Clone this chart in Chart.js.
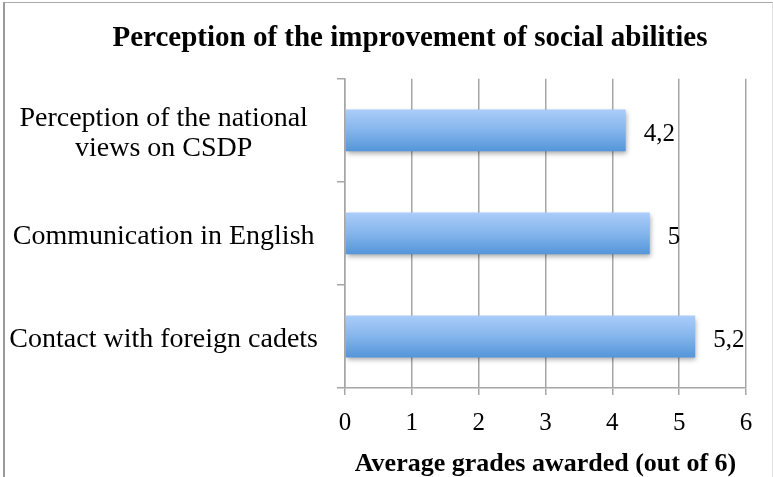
<!DOCTYPE html>
<html>
<head>
<meta charset="utf-8">
<script src="https://cdn.jsdelivr.net/npm/chart.js@4"></script>
<style>
  html, body { margin: 0; padding: 0; background: #fff; }
  #wrap { position: relative; width: 773px; height: 477px; }
  #frame { position: absolute; left: 3px; top: 2px; width: 767px; height: 480px;
           border-left: 2px solid #9a9a9a; border-top: 1px solid #a8a8a8; border-right: 1px solid #e0e0e0;
           pointer-events: none; }
</style>
</head>
<body>
<div id="wrap">
  <canvas id="c" width="773" height="477"></canvas>
  <div id="frame"></div>
</div>
<script>
const categories = [
  ['Perception of the national', 'views on CSDP'],
  'Communication in English',
  'Contact with foreign cadets'
];
const values = [4.2, 4.56, 5.24];
const valueLabels = ['4,2', '5', '5,2'];
const xTicks = [0, 1, 2, 3, 4, 5, 6];

const SERIF = "'Liberation Serif', 'DejaVu Serif', serif";

const barGradient = (ctx) => {
  const chart = ctx.chart;
  const ys = chart.scales && chart.scales.y;
  if (!ys || ctx.dataIndex === undefined) return '#84b5ec';
  const yc = ys.getPixelForValue(ctx.dataIndex);
  if (!isFinite(yc)) return '#84b5ec';
  const h = 21;
  const g = chart.ctx.createLinearGradient(0, yc - h, 0, yc + h);
  g.addColorStop(0, '#abcdf9');
  g.addColorStop(0.5, '#84b5ec');
  g.addColorStop(1, '#5495da');
  return g;
};

const shadowPlugin = {
  id: 'barShadow',
  beforeDatasetDraw(chart) {
    const c = chart.ctx;
    c.save();
    c.shadowColor = 'rgba(0,0,0,0.35)';
    c.shadowBlur = 5;
    c.shadowOffsetX = 1;
    c.shadowOffsetY = 3;
  },
  afterDatasetDraw(chart) {
    chart.ctx.restore();
  }
};

// shift the title block so it is centred like the reference (over the whole frame, not the plot)
const titleShiftPlugin = {
  id: 'titleShift',
  afterLayout(chart) {
    const t = chart.titleBlock;
    if (t) { t.left += 37; t.right += 37; }
  }
};

const valueLabelPlugin = {
  id: 'valueLabels',
  afterDatasetsDraw(chart) {
    const c = chart.ctx;
    const meta = chart.getDatasetMeta(0);
    c.save();
    c.font = "25px " + SERIF;
    c.fillStyle = '#000';
    c.textAlign = 'left';
    c.textBaseline = 'middle';
    meta.data.forEach((bar, i) => {
      c.fillText(valueLabels[i], bar.x + 18, bar.y + 4);
    });
    c.restore();
  }
};

const chart = new Chart(document.getElementById('c'), {
  type: 'bar',
  data: {
    labels: categories,
    datasets: [{
      data: values,
      backgroundColor: barGradient,
      borderWidth: 0,
      categoryPercentage: 1,
      barPercentage: 0.406
    }]
  },
  plugins: [shadowPlugin, valueLabelPlugin, titleShiftPlugin],
  options: {
    indexAxis: 'y',
    responsive: false,
    animation: false,
    layout: { padding: { left: 0, right: 27, top: 0, bottom: 0 } },
    plugins: {
      legend: { display: false },
      tooltip: { enabled: false },
      title: {
        display: true,
        text: 'Perception of the improvement of social abilities',
        color: '#000',
        font: { family: SERIF, size: 29, weight: 'bold', lineHeight: 1.2 },
        padding: { top: 21, bottom: 23 }
      }
    },
    scales: {
      x: {
        min: 0, max: 6,
        afterBuildTicks(scale) { scale.ticks = xTicks.map(v => ({ value: v })); },
        grid: { color: '#a6a6a6', lineWidth: 1.5, tickLength: 7, drawTicks: true },
        border: { color: '#a6a6a6', width: 1.5 },
        ticks: { color: '#000', font: { family: SERIF, size: 25, lineHeight: 1.2 }, padding: 13, maxRotation: 0 },
        title: {
          display: true,
          text: 'Average grades awarded (out of 6)',
          color: '#000',
          font: { family: SERIF, size: 26, weight: 'bold', lineHeight: 1 },
          padding: { top: 0, bottom: 0 }
        }
      },
      y: {
        afterFit(scale) { scale.width = 345; },
        grid: { drawOnChartArea: false, offset: true, color: '#a6a6a6', lineWidth: 1.5, tickLength: 8 },
        border: { color: '#a6a6a6', width: 1.5 },
        ticks: { color: '#000', font: { family: SERIF, size: 28, lineHeight: 1.07 }, padding: 19, crossAlign: 'center', labelOffset: 3 }
      }
    }
  }
});
chart.update();
</script>
</body>
</html>
